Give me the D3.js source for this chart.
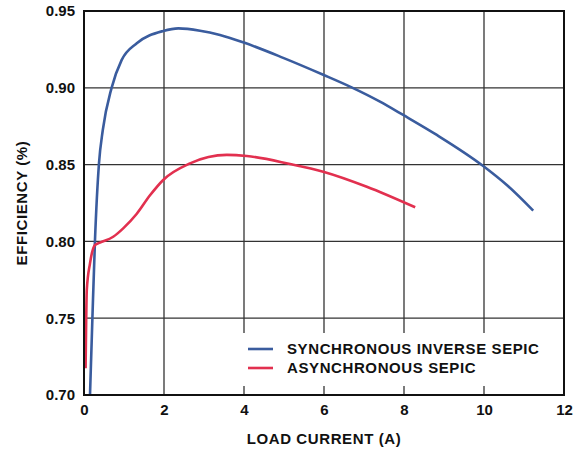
<!DOCTYPE html>
<html lang="en">
<head>
<meta charset="UTF-8">
<title>Efficiency vs Load Current</title>
<script src="https://d3js.org/d3.v7.min.js"></script>
<style>
    body { margin: 0; background: #fff; }
    text { font-family: "Liberation Sans", Arial, sans-serif; font-weight: bold; fill: #111; }
</style>
</head>
<body>
<div id="chart"></div>
<script>
// values
const seriesNames = ["SYNCHRONOUS INVERSE SEPIC", "ASYNCHRONOUS SEPIC"];
const syncX = [0.15, 0.21, 0.275, 0.375, 0.47, 0.69, 0.94, 1.32, 1.98, 2.36, 2.9, 3.4, 3.98, 4.98, 5.98, 6.69, 7.4, 7.98, 8.82, 9.98, 10.57, 11.23];
const syncY = [0.700, 0.750, 0.801, 0.851, 0.8725, 0.900, 0.918, 0.929, 0.937, 0.9387, 0.9372, 0.9344, 0.9296, 0.9195, 0.9085, 0.9003, 0.891, 0.8823, 0.8693, 0.8491, 0.8367, 0.820];
const asyncX = [0.04, 0.07, 0.15, 0.275, 0.4, 0.73, 0.98, 1.32, 1.65, 1.98, 2.65, 3.57, 4.07, 5.15, 5.98, 7.07, 8.28];
const asyncY = [0.7174, 0.7684, 0.7857, 0.7977, 0.7992, 0.803, 0.8085, 0.818, 0.830, 0.840, 0.8508, 0.8563, 0.8556, 0.8504, 0.8454, 0.8356, 0.8222];
const xTicks = [0, 2, 4, 6, 8, 10, 12];
const yTicks = [0.70, 0.75, 0.80, 0.85, 0.90, 0.95];

const margin = { top: 11, right: 15, bottom: 54, left: 84 };
const width = 579 - margin.left - margin.right;
const height = 449 - margin.top - margin.bottom;
const colors = ["#3a5c9e", "#e2304f"];

const svg = d3.select("#chart").append("svg")
    .attr("width", 579)
    .attr("height", 449)
    .append("g")
    .attr("transform", `translate(${margin.left},${margin.top})`);

const x = d3.scaleLinear().domain([0, 12]).range([0, width]);
const y = d3.scaleLinear().domain([0.70, 0.95]).range([height, 0]);

// grid
svg.append("g")
    .selectAll("line")
    .data(xTicks.slice(1, -1))
    .join("line")
    .attr("x1", d => x(d)).attr("x2", d => x(d))
    .attr("y1", 0).attr("y2", height)
    .attr("stroke", "#333").attr("stroke-width", 1.3);
svg.append("g")
    .selectAll("line")
    .data(yTicks.slice(1, -1))
    .join("line")
    .attr("x1", 0).attr("x2", width)
    .attr("y1", d => y(d)).attr("y2", d => y(d))
    .attr("stroke", "#333").attr("stroke-width", 1.3);

// axes (labels only)
const xAxis = svg.append("g")
    .attr("transform", `translate(0,${height})`)
    .call(d3.axisBottom(x).tickValues(xTicks).tickSize(0).tickPadding(9).tickFormat(d3.format("d")));
xAxis.select(".domain").remove();
xAxis.selectAll("text").style("font-size", "15px").style("font-family", null);

const yAxis = svg.append("g")
    .call(d3.axisLeft(y).tickValues(yTicks).tickSize(0).tickPadding(9).tickFormat(d3.format(".2f")));
yAxis.select(".domain").remove();
yAxis.selectAll("text").style("font-size", "15px").style("font-family", null);

// curves
const line = d3.line()
    .x(d => x(d[0]))
    .y(d => y(d[1]))
    .curve(d3.curveMonotoneX);

const curves = [d3.zip(syncX, syncY), d3.zip(asyncX, asyncY)];
svg.selectAll(".curve")
    .data(curves)
    .join("path")
    .attr("class", "curve")
    .attr("d", line)
    .attr("fill", "none")
    .attr("stroke", (d, i) => colors[i])
    .attr("stroke-width", 2.6);

// legend box hides grid
svg.append("rect")
    .attr("x", 156).attr("y", 322)
    .attr("width", width - 158).attr("height", 53)
    .attr("fill", "#fff");

const legend = svg.append("g").attr("transform", "translate(164,338)");
seriesNames.forEach((name, i) => {
    legend.append("line")
        .attr("x1", 0).attr("x2", 25)
        .attr("y1", i * 19).attr("y2", i * 19)
        .attr("stroke", colors[i]).attr("stroke-width", 2.6);
    legend.append("text")
        .attr("x", 39).attr("y", i * 19 + 5)
        .style("font-size", "15px")
        .style("letter-spacing", "0.6px")
        .text(name);
});

// frame
svg.append("rect")
    .attr("width", width).attr("height", height)
    .attr("fill", "none").attr("stroke", "#111").attr("stroke-width", 2);

// titles
svg.append("text")
    .attr("x", width / 2)
    .attr("y", height + 49)
    .attr("text-anchor", "middle")
    .style("font-size", "15px")
    .style("letter-spacing", "0.6px")
    .text("LOAD CURRENT (A)");

svg.append("text")
    .attr("transform", "rotate(-90)")
    .attr("x", -(203 - margin.top))
    .attr("y", -84 + 27)
    .attr("text-anchor", "middle")
    .style("font-size", "15px")
    .style("letter-spacing", "0.6px")
    .text("EFFICIENCY (%)");
</script>
</body>
</html>
